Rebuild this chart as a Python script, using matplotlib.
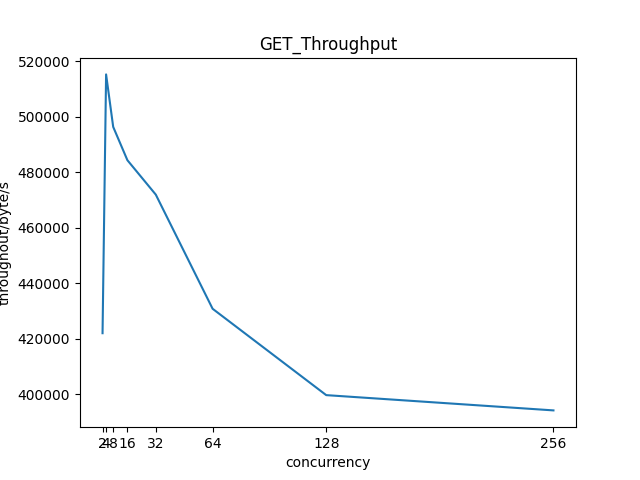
import matplotlib
matplotlib.use("Agg")
import matplotlib.pyplot as plt

concurrency = [2, 4, 8, 16, 32, 64, 128, 256]
throughput = [422000, 515200, 496300, 484300, 471900, 430800, 399700, 394200]

fig, ax = plt.subplots(figsize=(6.4, 4.8), dpi=100)
ax.plot(concurrency, throughput)
ax.set_xticks(concurrency)
ax.set_title("GET_Throughput")
ax.set_xlabel("concurrency")
ax.set_ylabel("throughout/byte/s")
fig.savefig("out.png")
